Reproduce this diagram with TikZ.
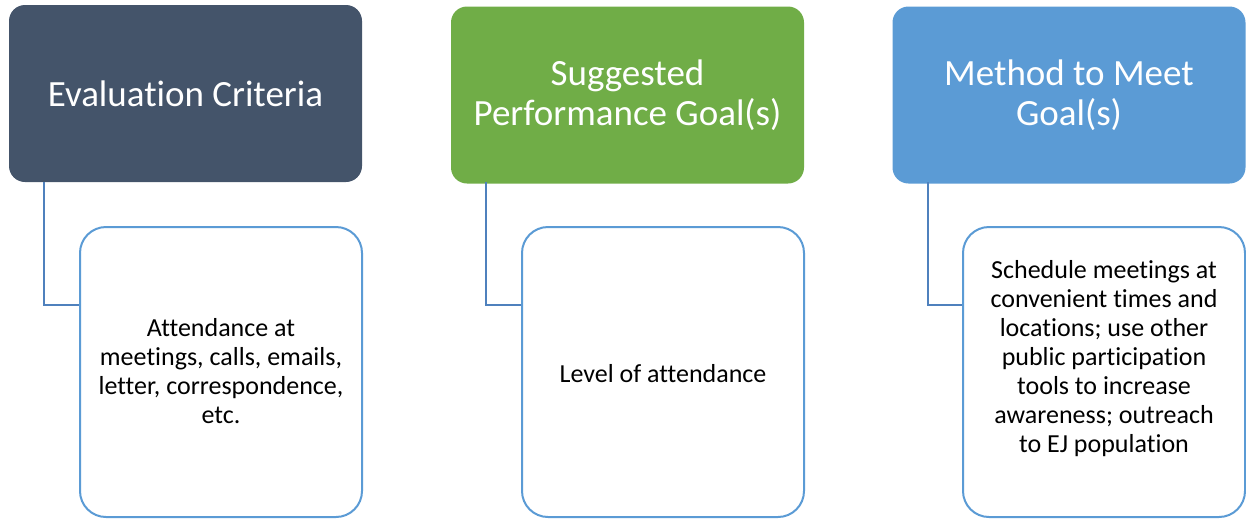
\documentclass[tikz,border=0pt]{standalone}
\usepackage{fontspec}
\setmainfont[RawFeature={-liga;-clig;-calt;-dlig}]{Carlito}
\definecolor{hdA}{HTML}{44546A}
\definecolor{hdB}{HTML}{70AD47}
\definecolor{hdC}{HTML}{5B9BD5}
\definecolor{brd}{HTML}{5B9BD5}
\definecolor{con}{HTML}{4F81BD}
\begin{document}
\begin{tikzpicture}[x=1pt,y=-1pt,
  header/.style={rounded corners=16pt,draw=none,minimum width=353pt,minimum height=177pt,
    text=white,font=\fontsize{37}{40}\selectfont,align=center,inner sep=0pt},
  childbox/.style={rounded corners=26pt,draw=brd,line width=2pt,fill=white,minimum width=282pt,
    minimum height=290pt,inner sep=0pt},
  childtext/.style={font=\fontsize{26}{29}\selectfont,align=center,inner sep=0pt},
  link/.style={draw=con,line width=2.8pt}]
\useasboundingbox (0,0) rectangle (1246,520);
\node[header,fill=hdA] (h1) at (185.5,93.5) {Evaluation Criteria};
\node[header,fill=hdB] (h2) at (627.5,95) {Suggested\\Performance Goal(s)};
\node[header,fill=hdC] (h3) at (1069,95) {Method to Meet\\Goal(s)};
\coordinate (t1) at (44,182);
\coordinate (t2) at (486,182);
\coordinate (t3) at (928,182);
\coordinate (b1) at (80,305);
\coordinate (b2) at (522,305);
\coordinate (b3) at (964,305);
\draw[link] (t1) |- (b1);
\draw[link] (t2) |- (b2);
\draw[link] (t3) |- (b3);
\node[childbox] (c1) at (221,372) {};
\node[childbox] (c2) at (663,372) {};
\node[childbox] (c3) at (1104,372) {};
\node[childtext] (c1t) at (221,371) {Attendance at\\meetings, calls, emails,\\letter, correspondence,\\etc.};
\node[childtext] (c2t) at (663,374) {Level of attendance};
\node[childtext] (c3t) at (1104,359) {Schedule meetings at\\convenient times and\\locations; use other\\public participation\\tools to increase\\awareness; outreach\\to EJ population};
\end{tikzpicture}
\end{document}
